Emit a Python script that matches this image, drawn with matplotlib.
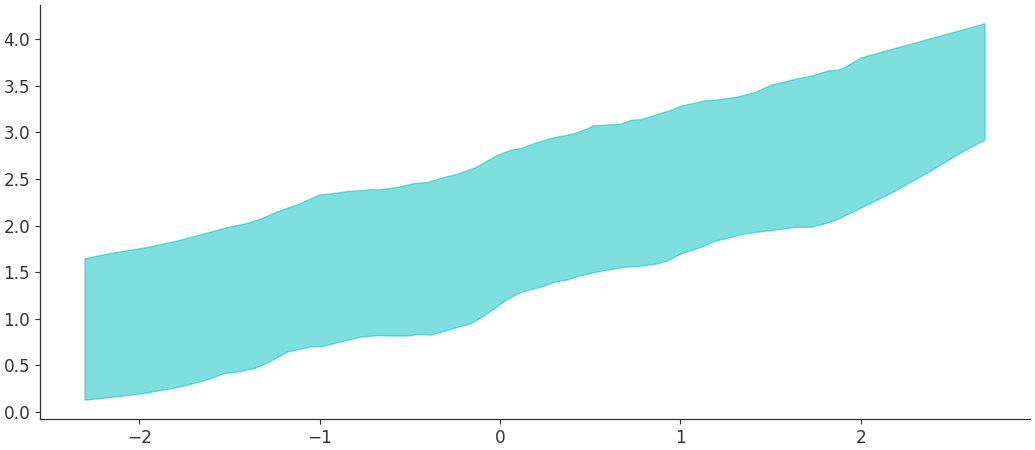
import numpy as np
import matplotlib
matplotlib.use("Agg")
import matplotlib.pyplot as plt

# Upper HDI bound
x_upper = [-2.30, -2.16, -1.97, -1.786, -1.638, -1.527, -1.398, -1.324, -1.231, -1.12,
           -1.00, -0.898, -0.843, -0.769, -0.714, -0.677, -0.566, -0.473, -0.399, -0.307,
           -0.233, -0.14, -0.067, -0.011, 0.063, 0.118, 0.192, 0.303, 0.359, 0.414,
           0.488, 0.516, 0.581, 0.673, 0.728, 0.784, 0.876, 0.95, 1.006, 1.135,
           1.209, 1.32, 1.413, 1.505, 1.579, 1.653, 1.727, 1.819, 1.875, 1.902,
           2.004, 2.688]
y_upper = [1.645, 1.70, 1.76, 1.836, 1.911, 1.971, 2.025, 2.071, 2.15, 2.225,
           2.328, 2.35, 2.367, 2.374, 2.388, 2.382, 2.41, 2.452, 2.463, 2.517,
           2.553, 2.617, 2.695, 2.756, 2.809, 2.827, 2.88, 2.944, 2.963, 2.987,
           3.04, 3.07, 3.077, 3.088, 3.13, 3.137, 3.194, 3.237, 3.283, 3.337,
           3.348, 3.38, 3.426, 3.508, 3.54, 3.576, 3.604, 3.658, 3.668, 3.686,
           3.80, 4.164]

# Lower HDI bound
x_lower = [-2.30, -2.156, -1.97, -1.786, -1.638, -1.527, -1.453, -1.36, -1.287, -1.176,
           -1.047, -0.991, -0.898, -0.861, -0.769, -0.677, -0.584, -0.51, -0.455, -0.381,
           -0.307, -0.215, -0.159, -0.085, -0.03, 0.026, 0.10, 0.155, 0.229, 0.303,
           0.377, 0.451, 0.562, 0.692, 0.765, 0.876, 0.932, 1.006, 1.117, 1.191,
           1.265, 1.357, 1.468, 1.56, 1.634, 1.727, 1.819, 1.875, 2.004, 2.189,
           2.374, 2.558, 2.688]
y_lower = [0.128, 0.157, 0.20, 0.264, 0.335, 0.414, 0.431, 0.467, 0.527, 0.645,
           0.699, 0.699, 0.745, 0.763, 0.805, 0.82, 0.816, 0.816, 0.831, 0.827,
           0.866, 0.92, 0.948, 1.037, 1.109, 1.19, 1.269, 1.305, 1.34, 1.394,
           1.419, 1.465, 1.511, 1.554, 1.561, 1.59, 1.626, 1.697, 1.768, 1.832,
           1.864, 1.911, 1.939, 1.96, 1.982, 1.982, 2.030, 2.071, 2.189, 2.367,
           2.57, 2.784, 2.917]

fig = plt.figure(figsize=(10.35, 4.5), dpi=100)
ax = fig.add_axes([40 / 1035, 31 / 450, 990 / 1035, 414 / 450])

poly_x = np.concatenate([x_upper, x_lower[::-1]])
poly_y = np.concatenate([y_upper, y_lower[::-1]])
ax.fill(poly_x, poly_y, facecolor="#00bfbf", edgecolor="#00bfbf",
        alpha=0.5, linewidth=1.0)

ax.spines["top"].set_visible(False)
ax.spines["right"].set_visible(False)
for s in ("left", "bottom"):
    ax.spines[s].set_color("#333333")
    ax.spines[s].set_linewidth(0.9)
ax.tick_params(colors="#333333", labelsize=12.2, length=3.5)
ax.set_xticks([-2, -1, 0, 1, 2])
ax.set_yticks(np.arange(0, 4.01, 0.5))
ax.margins(0.05)

fig.savefig("out.png", dpi=100)
